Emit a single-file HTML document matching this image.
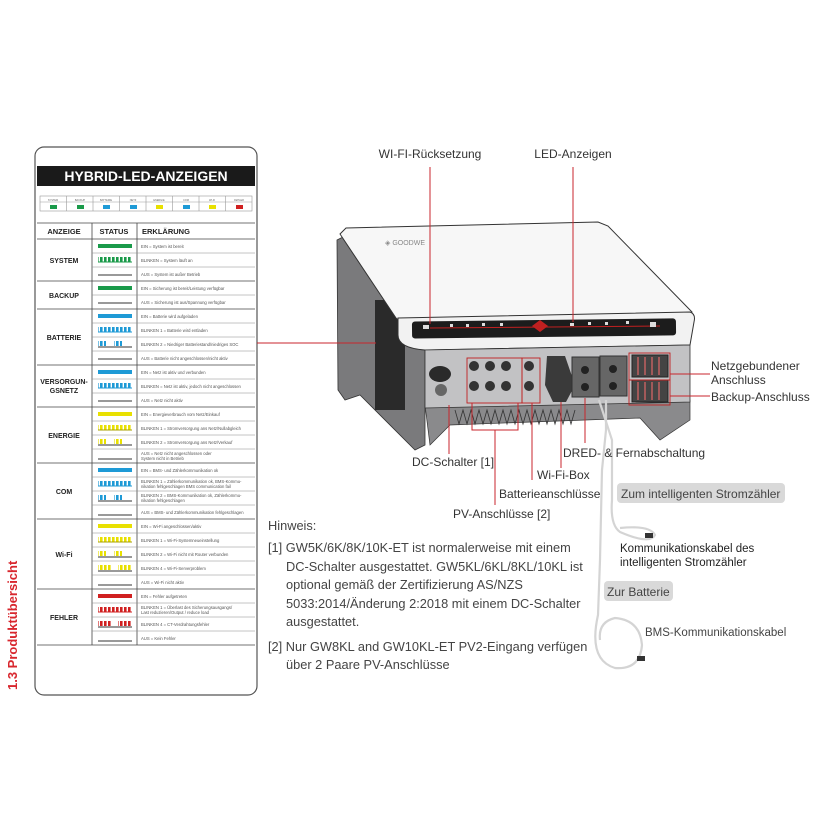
<!DOCTYPE html>
<html><head><meta charset="utf-8"><style>
html,body{margin:0;padding:0;background:#fff;}
svg{display:block;font-family:"Liberation Sans",sans-serif;}
</style></head><body>
<svg width="815" height="815" viewBox="0 0 815 815" xmlns="http://www.w3.org/2000/svg">
<defs>
<pattern id="dg" width="4" height="5" patternUnits="userSpaceOnUse"><rect width="2.6" height="5" fill="#1a9a4a"/></pattern>
<pattern id="db" width="4" height="5" patternUnits="userSpaceOnUse"><rect width="2.6" height="5" fill="#1e9ad6"/></pattern>
<pattern id="dy" width="4" height="5" patternUnits="userSpaceOnUse"><rect width="2.6" height="5" fill="#e8e000"/></pattern>
<pattern id="dr" width="4" height="5" patternUnits="userSpaceOnUse"><rect width="2.6" height="5" fill="#d02020"/></pattern>
</defs>

<text transform="translate(17,690) rotate(-90)" font-size="13" font-weight="bold" fill="#d8272e">1.3 Produktübersicht</text>

<rect x="35" y="147" width="222" height="548" rx="9" fill="#fff" stroke="#555" stroke-width="1.2"/>
<rect x="37" y="166" width="218" height="20" fill="#1a1a1a"/>
<text x="146" y="181" font-size="14" font-weight="bold" fill="#fff" text-anchor="middle">HYBRID-LED-ANZEIGEN</text>
<g stroke="#999" stroke-width="0.6" fill="none">
<rect x="40" y="196" width="212" height="15"/>
<line x1="40" y1="202" x2="252" y2="202"/>
<line x1="66.5" y1="196" x2="66.5" y2="211"/><line x1="93" y1="196" x2="93" y2="211"/><line x1="119.5" y1="196" x2="119.5" y2="211"/><line x1="146" y1="196" x2="146" y2="211"/><line x1="172.5" y1="196" x2="172.5" y2="211"/><line x1="199" y1="196" x2="199" y2="211"/><line x1="225.5" y1="196" x2="225.5" y2="211"/>
</g>
<g font-size="2.5" fill="#666" text-anchor="middle">
<text x="53" y="201">SYSTEM</text><text x="80" y="201">BACKUP</text><text x="106" y="201">BATTERIE</text><text x="133" y="201">NETZ</text><text x="159" y="201">ENERGIE</text><text x="186" y="201">COM</text><text x="212" y="201">WI-FI</text><text x="239" y="201">FEHLER</text>
</g>
<rect x="50" y="205" width="7" height="4" fill="#1a9a4a"/><rect x="77" y="205" width="7" height="4" fill="#1a9a4a"/>
<rect x="103" y="205" width="7" height="4" fill="#1e9ad6"/><rect x="130" y="205" width="7" height="4" fill="#1e9ad6"/>
<rect x="156" y="205" width="7" height="4" fill="#e8e000"/><rect x="183" y="205" width="7" height="4" fill="#1e9ad6"/>
<rect x="209" y="205" width="7" height="4" fill="#e8e000"/><rect x="236" y="205" width="7" height="4" fill="#d02020"/>

<g stroke="#444" stroke-width="0.8" fill="none">
<line x1="37" y1="223" x2="255" y2="223"/>
<line x1="37" y1="239" x2="255" y2="239"/>
<line x1="92" y1="223" x2="92" y2="645"/>
<line x1="137" y1="223" x2="137" y2="645"/>
<line x1="37" y1="645" x2="255" y2="645"/>
<line x1="37" y1="281" x2="255" y2="281"/><line x1="37" y1="309" x2="255" y2="309"/><line x1="37" y1="365" x2="255" y2="365"/><line x1="37" y1="407" x2="255" y2="407"/><line x1="37" y1="463" x2="255" y2="463"/><line x1="37" y1="519" x2="255" y2="519"/><line x1="37" y1="589" x2="255" y2="589"/>
</g>
<g stroke="#888" stroke-width="0.5">
<line x1="92" y1="253" x2="255" y2="253"/><line x1="92" y1="267" x2="255" y2="267"/>
<line x1="92" y1="295" x2="255" y2="295"/>
<line x1="92" y1="323" x2="255" y2="323"/><line x1="92" y1="337" x2="255" y2="337"/><line x1="92" y1="351" x2="255" y2="351"/>
<line x1="92" y1="379" x2="255" y2="379"/><line x1="92" y1="393" x2="255" y2="393"/>
<line x1="92" y1="421" x2="255" y2="421"/><line x1="92" y1="435" x2="255" y2="435"/><line x1="92" y1="449" x2="255" y2="449"/>
<line x1="92" y1="477" x2="255" y2="477"/><line x1="92" y1="491" x2="255" y2="491"/><line x1="92" y1="505" x2="255" y2="505"/>
<line x1="92" y1="533" x2="255" y2="533"/><line x1="92" y1="547" x2="255" y2="547"/><line x1="92" y1="561" x2="255" y2="561"/><line x1="92" y1="575" x2="255" y2="575"/>
<line x1="92" y1="603" x2="255" y2="603"/><line x1="92" y1="617" x2="255" y2="617"/><line x1="92" y1="631" x2="255" y2="631"/>
</g>
<g font-size="7.5" font-weight="bold" fill="#222">
<text x="64" y="234" text-anchor="middle">ANZEIGE</text>
<text x="114" y="234" text-anchor="middle">STATUS</text>
<text x="142" y="234">ERKLÄRUNG</text>
</g>
<g font-size="7" font-weight="bold" fill="#222" text-anchor="middle">
<text x="64" y="263">SYSTEM</text>
<text x="64" y="298">BACKUP</text>
<text x="64" y="340">BATTERIE</text>
<text x="64" y="384">VERSORGUN-</text><text x="64" y="393">GSNETZ</text>
<text x="64" y="438">ENERGIE</text>
<text x="64" y="494">COM</text>
<text x="64" y="557">Wi-Fi</text>
<text x="64" y="620">FEHLER</text>
</g>
<g>
<rect x="98" y="244" width="34" height="4" fill="#1a9a4a"/>
<rect x="98" y="257" width="34" height="5" fill="url(#dg)"/><line x1="98" y1="262" x2="132" y2="262" stroke="#1a9a4a"/>
<rect x="98" y="286" width="34" height="4" fill="#1a9a4a"/>
<rect x="98" y="314" width="34" height="4" fill="#1e9ad6"/>
<rect x="98" y="327" width="34" height="5" fill="url(#db)"/><line x1="98" y1="332" x2="132" y2="332" stroke="#1e9ad6"/>
<rect x="98" y="341" width="8" height="5" fill="url(#db)"/><rect x="114" y="341" width="8" height="5" fill="url(#db)"/>
<rect x="98" y="370" width="34" height="4" fill="#1e9ad6"/>
<rect x="98" y="383" width="34" height="5" fill="url(#db)"/><line x1="98" y1="388" x2="132" y2="388" stroke="#1e9ad6"/>
<rect x="98" y="412" width="34" height="4" fill="#e8e000"/>
<rect x="98" y="425" width="34" height="5" fill="url(#dy)"/><line x1="98" y1="430" x2="132" y2="430" stroke="#aaa000"/>
<rect x="98" y="439" width="8" height="5" fill="url(#dy)"/><rect x="114" y="439" width="8" height="5" fill="url(#dy)"/>
<rect x="98" y="468" width="34" height="4" fill="#1e9ad6"/>
<rect x="98" y="481" width="34" height="5" fill="url(#db)"/><line x1="98" y1="486" x2="132" y2="486" stroke="#1e9ad6"/>
<rect x="98" y="495" width="8" height="5" fill="url(#db)"/><rect x="114" y="495" width="8" height="5" fill="url(#db)"/>
<rect x="98" y="524" width="34" height="4" fill="#e8e000"/>
<rect x="98" y="537" width="34" height="5" fill="url(#dy)"/><line x1="98" y1="542" x2="132" y2="542" stroke="#aaa000"/>
<rect x="98" y="551" width="8" height="5" fill="url(#dy)"/><rect x="114" y="551" width="8" height="5" fill="url(#dy)"/>
<rect x="98" y="565" width="14" height="5" fill="url(#dy)"/><rect x="118" y="565" width="14" height="5" fill="url(#dy)"/>
<rect x="98" y="594" width="34" height="4" fill="#d02020"/>
<rect x="98" y="607" width="34" height="5" fill="url(#dr)"/><line x1="98" y1="612" x2="132" y2="612" stroke="#d02020"/>
<rect x="98" y="621" width="14" height="5" fill="url(#dr)"/><rect x="118" y="621" width="14" height="5" fill="url(#dr)"/>
</g>
<g stroke="#333" stroke-width="0.9">
<line x1="98" y1="275" x2="132" y2="275"/><line x1="98" y1="303" x2="132" y2="303"/><line x1="98" y1="347" x2="132" y2="347"/><line x1="98" y1="359" x2="132" y2="359"/><line x1="98" y1="401" x2="132" y2="401"/><line x1="98" y1="445" x2="132" y2="445"/><line x1="98" y1="459" x2="132" y2="459"/><line x1="98" y1="501" x2="132" y2="501"/><line x1="98" y1="515" x2="132" y2="515"/><line x1="98" y1="557" x2="132" y2="557"/><line x1="98" y1="571" x2="132" y2="571"/><line x1="98" y1="585" x2="132" y2="585"/><line x1="98" y1="627" x2="132" y2="627"/><line x1="98" y1="641" x2="132" y2="641"/>
</g>
<g font-size="4.2" fill="#555">
<text x="141" y="248">EIN = System ist bereit</text>
<text x="141" y="262">BLINKEN = System läuft an</text>
<text x="141" y="276">AUS = System ist außer Betrieb</text>
<text x="141" y="290">EIN = Sicherung ist bereit/Leistung verfügbar</text>
<text x="141" y="304">AUS = Sicherung ist aus/Spannung verfügbar</text>
<text x="141" y="318">EIN = Batterie wird aufgeladen</text>
<text x="141" y="332">BLINKEN 1 = Batterie wird entladen</text>
<text x="141" y="346">BLINKEN 2 = Niedriger Batteriestand/niedriges SOC</text>
<text x="141" y="360">AUS = Batterie nicht angeschlossen/nicht aktiv</text>
<text x="141" y="374">EIN = Netz ist aktiv und verbunden</text>
<text x="141" y="388">BLINKEN = Netz ist aktiv, jedoch nicht angeschlossen</text>
<text x="141" y="402">AUS = Netz nicht aktiv</text>
<text x="141" y="416">EIN = Energieverbrauch vom Netz/Einkauf</text>
<text x="141" y="430">BLINKEN 1 = Stromversorgung ans Netz/Nullabgleich</text>
<text x="141" y="444">BLINKEN 2 = Stromversorgung ans Netz/Verkauf</text>
<text x="141" y="455">AUS = Netz nicht angeschlossen oder</text><text x="141" y="460">System nicht in Betrieb</text>
<text x="141" y="472">EIN = BMS- und Zählerkommunikation ok</text>
<text x="141" y="483">BLINKEN 1 = Zählerkommunikation ok, BMS-Kommu-</text><text x="141" y="488">nikation fehlgeschlagen BMS communication fail</text>
<text x="141" y="497">BLINKEN 2 = BMS-Kommunikation ok, Zählerkommu-</text><text x="141" y="502">nikation fehlgeschlagen</text>
<text x="141" y="514">AUS = BMS- und Zählerkommunikation fehlgeschlagen</text>
<text x="141" y="528">EIN = Wi-Fi angeschlossen/aktiv</text>
<text x="141" y="542">BLINKEN 1 = Wi-Fi-Systemneueinstellung</text>
<text x="141" y="556">BLINKEN 2 = Wi-Fi nicht mit Router verbunden</text>
<text x="141" y="570">BLINKEN 4 = Wi-Fi-Serverproblem</text>
<text x="141" y="584">AUS = Wi-Fi nicht aktiv</text>
<text x="141" y="598">EIN = Fehler aufgetreten</text>
<text x="141" y="609">BLINKEN 1 = Überlast des Sicherungsausgangs/</text><text x="141" y="614">Last reduzieren/Output / reduce load</text>
<text x="141" y="626">BLINKEN 4 = CT-Verdrahtungsfehler</text>
<text x="141" y="640">AUS = Kein Fehler</text>
</g>

<!-- Inverter -->
<polygon points="337,240 345,236 425,318 425,445 415,450 360,395 345,400 338,390" fill="#7a7a7c" stroke="#333" stroke-width="0.8"/>
<rect x="375" y="300" width="30" height="110" fill="#2a2a2a"/>
<polygon points="425,405 690,400 690,420 660,440 640,418 450,425 430,445" fill="#8a8a8c" stroke="#333" stroke-width="0.7"/>
<g stroke="#333" stroke-width="0.8">
<path d="M455,410 l4,14 l4,-14 l4,14 l4,-14 l4,14 l4,-14 l4,14 l4,-14 l4,14 l4,-14 l4,14 l4,-14 l4,14 l4,-14 l4,14 l4,-14 l4,14 l4,-14 l4,14 l4,-14 l4,14 l4,-14 l4,14 l4,-14 l4,14 l4,-14 l4,14 l4,-14 l4,14 l4,-14" fill="none"/>
</g>
<polygon points="340,234 346,228 598,222 608,226 692,312 690,318 400,322 396,318" fill="#f7f7f7" stroke="#333" stroke-width="1"/>
<text x="385" y="245" font-size="7" fill="#888">◈ GOODWE</text>
<path d="M398,318 L690,312 Q696,314 694,322 L690,345 L425,350 Q398,348 398,335 Z" fill="#f2f2f2" stroke="#333" stroke-width="1"/>
<rect x="412" y="320" width="264" height="17" rx="3" fill="#1c1c1c" transform="rotate(-0.7 540 328)"/>
<line x1="430" y1="328" x2="660" y2="326" stroke="#c02020" stroke-width="1"/>
<polygon points="540,320 548,326 540,332 532,326" fill="#c02020"/>
<g fill="#ddd"><rect x="423" y="325" width="6" height="4"/><rect x="450" y="324" width="3" height="3"/><rect x="466" y="324" width="3" height="3"/><rect x="482" y="323" width="3" height="3"/><rect x="500" y="323" width="3" height="3"/><rect x="570" y="323" width="4" height="3"/><rect x="588" y="322" width="3" height="3"/><rect x="605" y="322" width="3" height="3"/><rect x="626" y="321" width="3" height="3"/><rect x="650" y="322" width="6" height="5"/></g>
<polygon points="425,350 690,345 690,402 425,408" fill="#c2c2c4" stroke="#333" stroke-width="0.8"/>
<ellipse cx="440" cy="374" rx="11" ry="8" fill="#2a2a2a"/><ellipse cx="441" cy="390" rx="6" ry="6" fill="#666"/>
<g fill="#333"><circle cx="474" cy="366" r="5"/><circle cx="490" cy="366" r="5"/><circle cx="506" cy="366" r="5"/><circle cx="474" cy="386" r="5"/><circle cx="490" cy="386" r="5"/><circle cx="506" cy="386" r="5"/><circle cx="529" cy="366" r="5"/><circle cx="529" cy="386" r="5"/></g>
<rect x="467" y="358" width="55" height="45" fill="none" stroke="#c02020" stroke-width="0.9"/>
<rect x="522" y="358" width="18" height="45" fill="none" stroke="#c02020" stroke-width="0.9"/>
<path d="M547,356 L565,356 L575,385 L566,402 L553,402 L545,385 Z" fill="#3a3a3a"/>
<rect x="572" y="357" width="27" height="40" fill="#666" stroke="#333"/><rect x="600" y="356" width="27" height="40" fill="#666" stroke="#333"/>
<g fill="#222"><circle cx="585" cy="370" r="4"/><circle cx="585" cy="387" r="4"/><circle cx="613" cy="369" r="4"/><circle cx="613" cy="386" r="4"/></g>
<rect x="632" y="355" width="36" height="22" fill="#444" stroke="#222"/><rect x="632" y="380" width="36" height="22" fill="#444" stroke="#222"/>
<g stroke="#c06060" stroke-width="1.5"><line x1="638" y1="357" x2="638" y2="375"/><line x1="645" y1="357" x2="645" y2="375"/><line x1="652" y1="357" x2="652" y2="375"/><line x1="659" y1="357" x2="659" y2="375"/><line x1="638" y1="382" x2="638" y2="400"/><line x1="645" y1="382" x2="645" y2="400"/><line x1="652" y1="382" x2="652" y2="400"/><line x1="659" y1="382" x2="659" y2="400"/></g>
<rect x="629" y="353" width="41" height="27" fill="none" stroke="#c02020" stroke-width="0.9"/>
<rect x="629" y="380" width="41" height="25" fill="none" stroke="#c02020" stroke-width="0.9"/>

<!-- cables -->
<g stroke="#d4d4d4" stroke-width="2.2" fill="none">
<path d="M599,400 L612,440 L612,500 Q610,525 620,532 Q650,545 655,535 Q650,525 620,528"/>
<path d="M606,400 L606,430 L602,470 L600,560 L598,615 Q588,660 615,668 Q640,670 642,645 Q640,620 615,618 Q598,622 600,640"/>
</g>
<rect x="645" y="533" width="8" height="5" fill="#333"/>
<rect x="637" y="656" width="8" height="5" fill="#333"/>

<g stroke="#c8262c" stroke-width="1" fill="none">
<line x1="430" y1="167" x2="430" y2="324"/>
<line x1="573" y1="167" x2="573" y2="322"/>
<line x1="257" y1="343" x2="376" y2="343"/>
<line x1="670" y1="374" x2="710" y2="374"/>
<line x1="670" y1="396" x2="710" y2="396"/>
<line x1="449" y1="405" x2="449" y2="454"/>
<path d="M472,403 L472,430 L518,430 L518,403"/>
<line x1="495" y1="430" x2="495" y2="505"/>
<line x1="532" y1="403" x2="532" y2="480"/>
<line x1="561" y1="402" x2="561" y2="468"/>
<line x1="585" y1="398" x2="585" y2="443"/>
</g>

<g font-size="12" fill="#333">
<text x="430" y="158" text-anchor="middle">WI-FI-Rücksetzung</text>
<text x="573" y="158" text-anchor="middle">LED-Anzeigen</text>
<text x="711" y="370">Netzgebundener</text>
<text x="711" y="384">Anschluss</text>
<text x="711" y="401">Backup-Anschluss</text>
<text x="412" y="466">DC-Schalter [1]</text>
<text x="563" y="457">DRED- &amp; Fernabschaltung</text>
<text x="537" y="479">Wi-Fi-Box</text>
<text x="499" y="498">Batterieanschlüsse</text>
<text x="453" y="518">PV-Anschlüsse [2]</text>
</g>
<rect x="617" y="483" width="168" height="20" rx="4" fill="#d9d9d9"/>
<text x="621" y="498" font-size="12" fill="#444">Zum intelligenten Stromzähler</text>
<rect x="604" y="581" width="69" height="20" rx="4" fill="#d9d9d9"/>
<text x="607" y="596" font-size="12" fill="#444">Zur Batterie</text>
<g font-size="11.5" fill="#222">
<text x="620" y="552">Kommunikationskabel des</text>
<text x="620" y="566">intelligenten Stromzähler</text>
</g>
<text x="645" y="636" font-size="11.5" fill="#444">BMS-Kommunikationskabel</text>

<g font-size="12.8" fill="#444">
<text x="268" y="530">Hinweis:</text>
<text x="268" y="552">[1] GW5K/6K/8K/10K-ET ist normalerweise mit einem</text>
<text x="286" y="571">DC-Schalter ausgestattet. GW5KL/6KL/8KL/10KL ist</text>
<text x="286" y="589">optional gemäß der Zertifizierung AS/NZS</text>
<text x="286" y="608">5033:2014/Änderung 2:2018 mit einem DC-Schalter</text>
<text x="286" y="626">ausgestattet.</text>
<text x="268" y="651">[2] Nur GW8KL and GW10KL-ET PV2-Eingang verfügen</text>
<text x="286" y="669">über 2 Paare PV-Anschlüsse</text>
</g>
</svg>
</body></html>
